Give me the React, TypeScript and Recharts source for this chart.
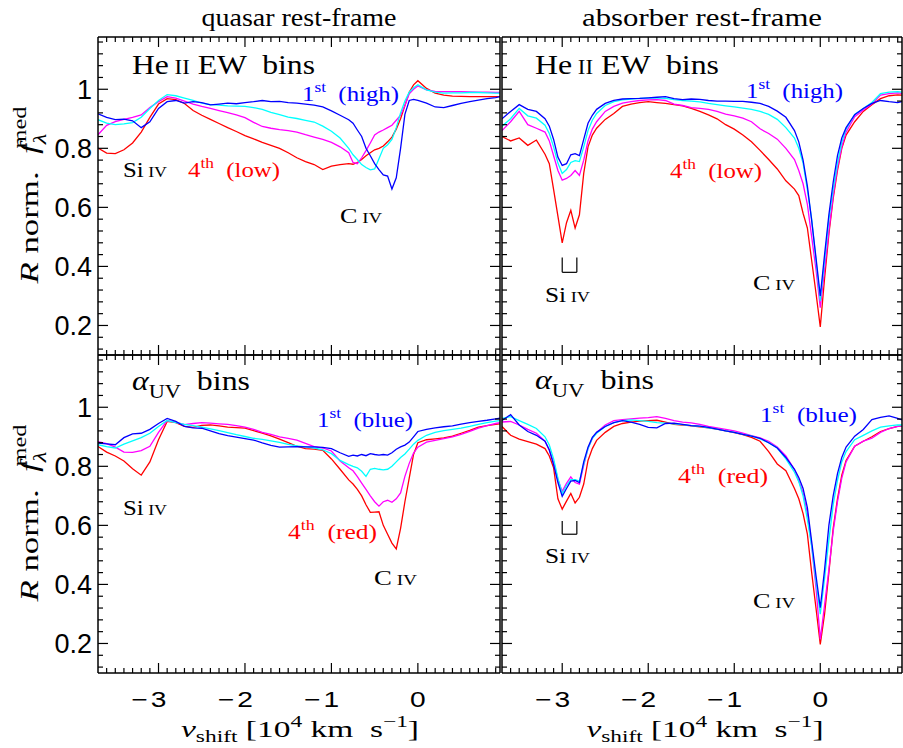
import React from "react";
import { LineChart, Line, XAxis, YAxis, ReferenceLine } from "recharts";

const SERIF = "'Liberation Serif', 'DejaVu Serif', serif";
const SANS = "'Liberation Sans', Arial, sans-serif";

const BLUE = "#0000ff";
const CYAN = "#00ffff";
const MAGENTA = "#ff00ff";
const RED = "#ff0000";

// velocity grids, 10^4 km/s
const V_QSO = [
  -3.7, -3.6, -3.5, -3.4, -3.3, -3.2, -3.1, -3.0, -2.9, -2.8, -2.7, -2.6, -2.5, -2.4, -2.3,
  -2.2, -2.1, -2.0, -1.9, -1.8, -1.7, -1.6, -1.5, -1.4, -1.3, -1.2, -1.1, -1.0, -0.9, -0.8,
  -0.75, -0.7, -0.65, -0.6, -0.55, -0.5, -0.45, -0.4, -0.35, -0.3, -0.25, -0.2, -0.15, -0.1, -0.05, 0,
  0.1, 0.2, 0.3, 0.4, 0.5, 0.6, 0.7, 0.8, 0.9, 0.95,
];
const V_ABS = [
  -3.7, -3.6, -3.5, -3.4, -3.3, -3.2,
  -3.15, -3.1, -3.05, -3.0, -2.95, -2.9, -2.85, -2.8, -2.75, -2.7, -2.65, -2.6,
  -2.5, -2.4, -2.3, -2.2, -2.1, -2.0, -1.9, -1.8, -1.7, -1.6, -1.5, -1.4, -1.3, -1.2, -1.1, -1.0,
  -0.9, -0.8, -0.7, -0.6, -0.5, -0.4, -0.3,
  -0.25, -0.2, -0.15, -0.1, -0.05, 0, 0.05, 0.1, 0.15, 0.2, 0.25, 0.3,
  0.4, 0.5, 0.6, 0.7, 0.8, 0.9, 0.95,
];

// He II EW bins, quasar frame
const HE_Q_1 = [
  0.917, 0.905, 0.897, 0.899, 0.893, 0.870, 0.890, 0.935, 0.958, 0.962, 0.953, 0.958, 0.955, 0.947, 0.950,
  0.953, 0.951, 0.955, 0.958, 0.962, 0.958, 0.959, 0.955, 0.953, 0.950, 0.946, 0.940, 0.927, 0.912, 0.897,
  0.885, 0.862, 0.840, 0.800, 0.775, 0.748, 0.728, 0.710, 0.706, 0.662, 0.700, 0.800, 0.915, 0.962, 0.966, 0.962,
  0.953, 0.940, 0.938, 0.945, 0.952, 0.958, 0.963, 0.968, 0.972, 0.975,
];
const HE_Q_2 = [
  0.897, 0.885, 0.880, 0.883, 0.887, 0.905, 0.935, 0.962, 0.982, 0.978, 0.970, 0.962, 0.953, 0.948, 0.946,
  0.944, 0.943, 0.942, 0.938, 0.932, 0.922, 0.914, 0.906, 0.901, 0.895, 0.889, 0.875, 0.858, 0.835, 0.800,
  0.778, 0.762, 0.745, 0.735, 0.727, 0.730, 0.765, 0.800, 0.812, 0.830, 0.870, 0.920, 0.960, 0.990, 1.005, 1.015,
  0.998, 0.990, 0.987, 0.988, 0.988, 0.989, 0.989, 0.988, 0.987, 0.987,
];
const HE_Q_3 = [
  0.846, 0.878, 0.890, 0.898, 0.905, 0.913, 0.938, 0.958, 0.975, 0.970, 0.960, 0.950, 0.942, 0.935, 0.928,
  0.921, 0.913, 0.904, 0.888, 0.874, 0.868, 0.863, 0.860, 0.855, 0.846, 0.838, 0.830, 0.820, 0.805, 0.785,
  0.752, 0.748, 0.768, 0.792, 0.818, 0.845, 0.855, 0.862, 0.870, 0.878, 0.895, 0.912, 0.945, 0.985, 1.000, 1.011,
  0.998, 0.993, 0.992, 0.992, 0.992, 0.991, 0.990, 0.990, 0.989, 0.989,
];
const HE_Q_4 = [
  0.801, 0.784, 0.782, 0.795, 0.818, 0.855, 0.905, 0.950, 0.968, 0.965, 0.952, 0.928, 0.912, 0.898, 0.884,
  0.870, 0.857, 0.843, 0.832, 0.820, 0.810, 0.800, 0.785, 0.768, 0.755, 0.745, 0.728, 0.740, 0.745, 0.748,
  0.746, 0.752, 0.762, 0.775, 0.785, 0.795, 0.800, 0.808, 0.822, 0.838, 0.865, 0.900, 0.945, 0.990, 1.015, 1.029,
  1.003, 0.987, 0.980, 0.977, 0.976, 0.975, 0.975, 0.975, 0.975, 0.975,
];

// He II EW bins, absorber frame
const HE_A_1 = [
  0.900, 0.925, 0.948, 0.932, 0.925, 0.900,
  0.875, 0.830, 0.770, 0.742, 0.748, 0.778, 0.782, 0.775, 0.830, 0.885, 0.912, 0.932,
  0.952, 0.962, 0.967, 0.968, 0.969, 0.971, 0.973, 0.975, 0.968, 0.965, 0.967, 0.966, 0.962, 0.960, 0.960, 0.959,
  0.959, 0.956, 0.952, 0.942, 0.926, 0.905, 0.860,
  0.822, 0.760, 0.672, 0.555, 0.430, 0.300, 0.440, 0.575, 0.685, 0.775, 0.835, 0.870,
  0.914, 0.935, 0.952, 0.962, 0.958, 0.955, 0.958,
];
const HE_A_2 = [
  0.875, 0.900, 0.935, 0.910, 0.902, 0.878,
  0.850, 0.805, 0.750, 0.715, 0.728, 0.752, 0.758, 0.755, 0.805, 0.860, 0.895, 0.918,
  0.945, 0.958, 0.964, 0.967, 0.969, 0.970, 0.970, 0.969, 0.965, 0.962, 0.960, 0.957, 0.952, 0.948, 0.944, 0.940,
  0.936, 0.932, 0.925, 0.915, 0.898, 0.870, 0.835,
  0.800, 0.750, 0.660, 0.560, 0.420, 0.283, 0.420, 0.560, 0.660, 0.750, 0.820, 0.865,
  0.915, 0.935, 0.955, 0.985, 0.990, 0.992, 0.990,
];
const HE_A_3 = [
  0.860, 0.890, 0.925, 0.880, 0.868, 0.855,
  0.825, 0.775, 0.725, 0.692, 0.698, 0.708, 0.725, 0.708, 0.760, 0.825, 0.865, 0.890,
  0.925, 0.942, 0.953, 0.958, 0.962, 0.964, 0.965, 0.962, 0.950, 0.945, 0.938, 0.935, 0.932, 0.925, 0.916, 0.910,
  0.902, 0.890, 0.866, 0.850, 0.831, 0.800, 0.762,
  0.725, 0.680, 0.610, 0.500, 0.390, 0.260, 0.390, 0.520, 0.640, 0.735, 0.805, 0.855,
  0.907, 0.930, 0.950, 0.980, 0.985, 0.988, 0.986,
];
const HE_A_4 = [
  0.840, 0.825, 0.835, 0.810, 0.828, 0.780,
  0.748, 0.660, 0.570, 0.480, 0.548, 0.590, 0.530, 0.575, 0.715, 0.805, 0.845, 0.868,
  0.898, 0.918, 0.942, 0.950, 0.955, 0.958, 0.955, 0.952, 0.948, 0.944, 0.935, 0.925, 0.913, 0.900, 0.880, 0.865,
  0.845, 0.822, 0.793, 0.762, 0.730, 0.690, 0.662,
  0.640, 0.580, 0.530, 0.420, 0.310, 0.195, 0.360, 0.510, 0.630, 0.725, 0.800, 0.845,
  0.890, 0.925, 0.948, 0.968, 0.978, 0.981, 0.980,
];

// alpha_UV bins, quasar frame
const AL_Q_1 = [
  0.879, 0.876, 0.873, 0.897, 0.910, 0.912, 0.925, 0.945, 0.962, 0.952, 0.935, 0.930, 0.929, 0.920, 0.911,
  0.904, 0.899, 0.894, 0.889, 0.879, 0.871, 0.865, 0.866, 0.867, 0.866, 0.866, 0.864, 0.860, 0.846, 0.834,
  0.838, 0.835, 0.840, 0.836, 0.843, 0.840, 0.838, 0.840, 0.838, 0.846, 0.858, 0.866, 0.872, 0.882, 0.900, 0.918,
  0.925, 0.930, 0.934, 0.937, 0.943, 0.948, 0.952, 0.956, 0.961, 0.963,
];
const AL_Q_2 = [
  0.873, 0.867, 0.862, 0.875, 0.886, 0.897, 0.912, 0.935, 0.955, 0.948, 0.942, 0.938, 0.933, 0.927, 0.921,
  0.914, 0.907, 0.901, 0.895, 0.891, 0.886, 0.881, 0.874, 0.869, 0.866, 0.862, 0.856, 0.843, 0.820, 0.806,
  0.800, 0.795, 0.783, 0.766, 0.790, 0.793, 0.790, 0.788, 0.790, 0.800, 0.815, 0.830, 0.842, 0.858, 0.875, 0.888,
  0.905, 0.915, 0.921, 0.925, 0.929, 0.935, 0.942, 0.948, 0.953, 0.955,
];
const AL_Q_3 = [
  0.884, 0.877, 0.865, 0.848, 0.847, 0.853, 0.868, 0.915, 0.955, 0.950, 0.941, 0.945, 0.948, 0.946, 0.944,
  0.942, 0.938, 0.933, 0.925, 0.915, 0.908, 0.900, 0.895, 0.889, 0.878, 0.867, 0.862, 0.852, 0.818, 0.795,
  0.785, 0.765, 0.743, 0.722, 0.700, 0.680, 0.665, 0.680, 0.685, 0.678, 0.690, 0.710, 0.766, 0.810, 0.845, 0.865,
  0.882, 0.888, 0.894, 0.900, 0.908, 0.918, 0.929, 0.938, 0.945, 0.948,
];
const AL_Q_4 = [
  0.867, 0.848, 0.835, 0.818, 0.792, 0.770, 0.815, 0.890, 0.952, 0.948, 0.935, 0.932, 0.939, 0.940, 0.937,
  0.933, 0.931, 0.929, 0.921, 0.912, 0.903, 0.892, 0.880, 0.868, 0.860, 0.858, 0.854, 0.825, 0.790, 0.754,
  0.740, 0.722, 0.700, 0.670, 0.644, 0.645, 0.646, 0.600, 0.570, 0.540, 0.520, 0.590, 0.680, 0.760, 0.840, 0.880,
  0.890, 0.893, 0.896, 0.902, 0.912, 0.922, 0.933, 0.938, 0.942, 0.944,
];

// alpha_UV bins, absorber frame
const AL_A_1 = [
  0.955, 0.975, 0.940, 0.918, 0.905, 0.885,
  0.855, 0.805, 0.745, 0.698, 0.725, 0.750, 0.752, 0.745, 0.815, 0.865, 0.898, 0.915,
  0.935, 0.948, 0.955, 0.950, 0.942, 0.932, 0.930, 0.945, 0.946, 0.942, 0.938, 0.936, 0.932, 0.926, 0.920, 0.915,
  0.908, 0.902, 0.895, 0.880, 0.862, 0.830, 0.790,
  0.762, 0.725, 0.660, 0.545, 0.430, 0.321, 0.450, 0.600, 0.700, 0.775, 0.830, 0.865,
  0.902, 0.925, 0.958, 0.966, 0.971, 0.962, 0.957,
];
const AL_A_2 = [
  0.962, 0.968, 0.955, 0.942, 0.928, 0.900,
  0.872, 0.825, 0.760, 0.707, 0.735, 0.755, 0.755, 0.750, 0.808, 0.860, 0.895, 0.912,
  0.935, 0.948, 0.955, 0.957, 0.955, 0.952, 0.948, 0.946, 0.944, 0.941, 0.938, 0.935, 0.930, 0.926, 0.920, 0.915,
  0.908, 0.903, 0.893, 0.880, 0.862, 0.825, 0.780,
  0.748, 0.700, 0.620, 0.530, 0.410, 0.299, 0.420, 0.550, 0.670, 0.752, 0.815, 0.850,
  0.890, 0.905, 0.920, 0.933, 0.937, 0.940, 0.940,
];
const AL_A_3 = [
  0.950, 0.952, 0.940, 0.925, 0.912, 0.885,
  0.855, 0.815, 0.755, 0.715, 0.742, 0.764, 0.745, 0.740, 0.803, 0.860, 0.895, 0.915,
  0.940, 0.955, 0.958, 0.961, 0.963, 0.965, 0.968, 0.962, 0.955, 0.950, 0.947, 0.942, 0.935, 0.930, 0.925, 0.920,
  0.912, 0.904, 0.896, 0.885, 0.865, 0.835, 0.789,
  0.750, 0.710, 0.640, 0.530, 0.390, 0.214, 0.330, 0.450, 0.580, 0.680, 0.760, 0.815,
  0.868, 0.885, 0.895, 0.915, 0.928, 0.935, 0.937,
];
const AL_A_4 = [
  0.935, 0.905, 0.892, 0.884, 0.875, 0.860,
  0.835, 0.795, 0.690, 0.655, 0.682, 0.708, 0.676, 0.695, 0.740, 0.820, 0.860, 0.888,
  0.915, 0.935, 0.945, 0.950, 0.953, 0.955, 0.956, 0.950, 0.942, 0.940, 0.937, 0.934, 0.930, 0.926, 0.920, 0.914,
  0.907, 0.898, 0.885, 0.850, 0.808, 0.785, 0.725,
  0.690, 0.640, 0.570, 0.440, 0.320, 0.197, 0.300, 0.440, 0.590, 0.690, 0.770, 0.820,
  0.868, 0.885, 0.900, 0.918, 0.928, 0.935, 0.937,
];

// Si IV doublet marker (absorber frame)
const SI_IV_V = [-3.0, -2.83];

const X_DOMAIN = [-3.7, 0.95];
const Y_DOMAIN = [0.1, 1.177];
const X_MAJOR = [-3, -2, -1, 0];
const Y_MAJOR = [0.2, 0.4, 0.6, 0.8, 1];
const X_TICKS = Array.from({ length: 46 }, (_, i) => +(-3.6 + i * 0.1).toFixed(1));
const Y_TICKS = Array.from({ length: 27 }, (_, i) => +(0.12 + i * 0.04).toFixed(2));

const isMajor = (list: number[], v: number) => list.some((m) => Math.abs(m - v) < 1e-6);

const toRows = (v: number[], b: number[], c: number[], m: number[], r: number[]) =>
  v.map((x, i) => ({ v: x, b: b[i], c: c[i], m: m[i], r: r[i] }));

const xTick = (side: "top" | "bottom", label: boolean) => (p: any) => {
  const { x, y } = p;
  const v = p.payload.value;
  const major = isMajor(X_MAJOR, v);
  const len = major ? 10 : 5;
  const d = side === "bottom" ? -1 : 1;
  return (
    <g>
      <line x1={x} x2={x} y1={y} y2={y + d * len} stroke="#000" strokeWidth={1.2} />
      {label && major && (
        <g
          transform={`translate(${x},${y + 34}) scale(1.28,1)`}
          fontFamily={SANS}
          fontSize={22}
          fill="#000"
        >
          <text x={0} y={0} textAnchor="middle">
            {Math.abs(v)}
          </text>
          {v < 0 && (
            <text x={-8.5} y={0} textAnchor="end">
              −
            </text>
          )}
        </g>
      )}
    </g>
  );
};

const yTick = (side: "left" | "right", label: boolean) => (p: any) => {
  const { x, y } = p;
  const v = p.payload.value;
  const major = isMajor(Y_MAJOR, v);
  const len = major ? 10 : 5;
  const d = side === "left" ? 1 : -1;
  return (
    <g>
      <line x1={x} x2={x + d * len} y1={y} y2={y} stroke="#000" strokeWidth={1.2} />
      {label && major && (
        <text x={x - 6} y={y + 9.5} textAnchor="end" fontFamily={SANS} fontSize={27} fill="#000">
          {v}
        </text>
      )}
    </g>
  );
};

const AXIS_LINE = { stroke: "#000", strokeWidth: 1.5 };

interface PanelProps {
  left: number;
  top: number;
  width: number;
  height: number;
  data: { v: number; b: number; c: number; m: number; r: number }[];
  xLabels: boolean;
  yLabels: boolean;
  bracket?: [number, number];
}

function Panel({ left, top, width, height, data, xLabels, yLabels, bracket }: PanelProps) {
  // axes are 1px thick bands so that the plot box lands exactly on left/top/width/height
  const margin = {
    top: top - 1,
    left: left - 1,
    right: 903 - left - width - 1,
    bottom: 748 - top - height - 1,
  };
  return (
    <div style={{ position: "absolute", left: 0, top: 0 }}>
      <LineChart width={903} height={748} data={data} margin={margin}>
        <XAxis
          xAxisId="b"
          dataKey="v"
          type="number"
          domain={X_DOMAIN}
          allowDataOverflow
          ticks={X_TICKS}
          interval={0}
          height={1}
          tickSize={0}
          tickMargin={0}
          tickLine={false}
          axisLine={AXIS_LINE}
          tick={xTick("bottom", xLabels)}
        />
        <XAxis
          xAxisId="t"
          orientation="top"
          dataKey="v"
          type="number"
          domain={X_DOMAIN}
          allowDataOverflow
          ticks={X_TICKS}
          interval={0}
          height={1}
          tickSize={0}
          tickMargin={0}
          tickLine={false}
          axisLine={AXIS_LINE}
          tick={xTick("top", false)}
        />
        <YAxis
          yAxisId="l"
          type="number"
          domain={Y_DOMAIN}
          allowDataOverflow
          ticks={Y_TICKS}
          interval={0}
          width={1}
          tickSize={0}
          tickMargin={0}
          tickLine={false}
          axisLine={AXIS_LINE}
          tick={yTick("left", yLabels)}
        />
        <YAxis
          yAxisId="r"
          orientation="right"
          type="number"
          domain={Y_DOMAIN}
          allowDataOverflow
          ticks={Y_TICKS}
          interval={0}
          width={1}
          tickSize={0}
          tickMargin={0}
          tickLine={false}
          axisLine={AXIS_LINE}
          tick={yTick("right", false)}
        />
        {[
          { k: "r", c: RED },
          { k: "m", c: MAGENTA },
          { k: "c", c: CYAN },
          { k: "b", c: BLUE },
        ].map((s) => (
          <Line
            key={s.k}
            xAxisId="b"
            yAxisId="l"
            dataKey={s.k}
            type="linear"
            stroke={s.c}
            strokeWidth={1.3}
            dot={false}
            activeDot={false}
            isAnimationActive={false}
          />
        ))}
        {bracket && (
          <ReferenceLine
            xAxisId="b"
            yAxisId="l"
            segment={[
              { x: SI_IV_V[0], y: bracket[0] },
              { x: SI_IV_V[0], y: bracket[1] },
            ]}
            stroke="#000"
            strokeWidth={1.2}
          />
        )}
        {bracket && (
          <ReferenceLine
            xAxisId="b"
            yAxisId="l"
            segment={[
              { x: SI_IV_V[0], y: bracket[1] },
              { x: SI_IV_V[1], y: bracket[1] },
            ]}
            stroke="#000"
            strokeWidth={1.2}
          />
        )}
        {bracket && (
          <ReferenceLine
            xAxisId="b"
            yAxisId="l"
            segment={[
              { x: SI_IV_V[1], y: bracket[1] },
              { x: SI_IV_V[1], y: bracket[0] },
            ]}
            stroke="#000"
            strokeWidth={1.2}
          />
        )}
      </LineChart>
    </div>
  );
}

function Txt(props: {
  x: number;
  y: number;
  s: number;
  w?: number;
  fill?: string;
  anchor?: "start" | "middle" | "end";
  children: React.ReactNode;
}) {
  const { x, y, s, w, fill = "#000", anchor = "start", children } = props;
  return (
    <text
      x={x}
      y={y}
      fontSize={s}
      fill={fill}
      fontFamily={SERIF}
      textAnchor={anchor}
      textLength={w}
      lengthAdjust={w ? "spacingAndGlyphs" : undefined}
      style={{ whiteSpace: "pre" }}
    >
      {children}
    </text>
  );
}

const ion = (el: string, stage: string, s: number) => (
  <>
    {el}
    <tspan fontSize={s * 0.72}>{" " + stage}</tspan>
  </>
);

const ord = (n: string, suf: string, rest: string, s: number) => (
  <>
    {n}
    <tspan dy={-0.42 * s} fontSize={s * 0.7}>
      {suf}
    </tspan>
    <tspan dy={0.42 * s}>{"  " + rest}</tspan>
  </>
);

const heBins = (s: number) => (
  <>
    He<tspan fontSize={s * 0.72}>{" II"}</tspan>
    <tspan>{" EW  bins"}</tspan>
  </>
);

const alBins = (s: number) => (
  <>
    <tspan fontStyle="italic">α</tspan>
    <tspan dy={0.28 * s} fontSize={s * 0.7}>
      UV
    </tspan>
    <tspan dy={-0.28 * s}>{"  bins"}</tspan>
  </>
);

const xTitle = (s: number) => (
  <>
    <tspan fontStyle="italic">v</tspan>
    <tspan dy={0.2 * s} fontSize={s * 0.7}>
      shift
    </tspan>
    <tspan dy={-0.2 * s}>{" [10"}</tspan>
    <tspan dy={-0.42 * s} fontSize={s * 0.7}>
      4
    </tspan>
    <tspan dy={0.42 * s}>{" km  s"}</tspan>
    <tspan dy={-0.42 * s} fontSize={s * 0.7}>
      −1
    </tspan>
    <tspan dy={0.42 * s}>]</tspan>
  </>
);

const yTitle = (s: number) => (
  <>
    <tspan fontStyle="italic">R</tspan>
    <tspan>{" norm.  "}</tspan>
    <tspan fontStyle="italic">f</tspan>
    <tspan dy={0.3 * s} fontSize={s * 0.7} fontStyle="italic">
      λ
    </tspan>
    <tspan dx={-0.42 * s} dy={-0.78 * s} fontSize={s * 0.7}>
      med
    </tspan>
  </>
);

function Overlay() {
  return (
    <svg
      width={903}
      height={748}
      style={{ position: "absolute", left: 0, top: 0, pointerEvents: "none" }}
    >
      <Txt x={299} y={26} s={25} w={195} anchor="middle">
        quasar rest-frame
      </Txt>
      <Txt x={702} y={26} s={25} w={240} anchor="middle">
        absorber rest-frame
      </Txt>

      {[195, 513].map((cy) => (
        <g key={cy} transform={`translate(38,${cy}) rotate(-90)`}>
          <Txt x={0} y={0} s={26} w={177} anchor="middle">
            {yTitle(26)}
          </Txt>
        </g>
      ))}

      <Txt x={300} y={737} s={24} w={238} anchor="middle">
        {xTitle(24)}
      </Txt>
      <Txt x={705} y={737} s={24} w={237} anchor="middle">
        {xTitle(24)}
      </Txt>

      {/* top left */}
      <Txt x={132} y={74} s={28} w={183}>
        {heBins(28)}
      </Txt>
      <Txt x={302} y={101} s={22} w={97} fill={BLUE}>
        {ord("1", "st", "(high)", 22)}
      </Txt>
      <Txt x={123} y={177} s={21} w={44}>
        {ion("Si", "IV", 21)}
      </Txt>
      <Txt x={188} y={177} s={22} w={92} fill={RED}>
        {ord("4", "th", "(low)", 22)}
      </Txt>
      <Txt x={340} y={223} s={21} w={42}>
        {ion("C", "IV", 21)}
      </Txt>

      {/* top right */}
      <Txt x={535} y={74} s={28} w={184}>
        {heBins(28)}
      </Txt>
      <Txt x={746} y={98} s={22} w={97} fill={BLUE}>
        {ord("1", "st", "(high)", 22)}
      </Txt>
      <Txt x={670} y={178} s={22} w={92} fill={RED}>
        {ord("4", "th", "(low)", 22)}
      </Txt>
      <Txt x={753} y={290} s={21} w={42}>
        {ion("C", "IV", 21)}
      </Txt>
      <Txt x={545} y={302} s={21} w={45}>
        {ion("Si", "IV", 21)}
      </Txt>

      {/* bottom left */}
      <Txt x={132} y={390} s={28} w={118}>
        {alBins(28)}
      </Txt>
      <Txt x={317} y={427} s={22} w={96} fill={BLUE}>
        {ord("1", "st", "(blue)", 22)}
      </Txt>
      <Txt x={123} y={515} s={21} w={44}>
        {ion("Si", "IV", 21)}
      </Txt>
      <Txt x={288} y={539} s={22} w={89} fill={RED}>
        {ord("4", "th", "(red)", 22)}
      </Txt>
      <Txt x={374} y={585} s={21} w={43}>
        {ion("C", "IV", 21)}
      </Txt>

      {/* bottom right */}
      <Txt x={535} y={389} s={28} w={119}>
        {alBins(28)}
      </Txt>
      <Txt x={760} y={422} s={22} w={97} fill={BLUE}>
        {ord("1", "st", "(blue)", 22)}
      </Txt>
      <Txt x={678} y={483} s={22} w={90} fill={RED}>
        {ord("4", "th", "(red)", 22)}
      </Txt>
      <Txt x={545} y={563} s={21} w={45}>
        {ion("Si", "IV", 21)}
      </Txt>
      <Txt x={753} y={608} s={21} w={42}>
        {ion("C", "IV", 21)}
      </Txt>
    </svg>
  );
}

export default function App() {
  const heQ = toRows(V_QSO, HE_Q_1, HE_Q_2, HE_Q_3, HE_Q_4);
  const heA = toRows(V_ABS, HE_A_1, HE_A_2, HE_A_3, HE_A_4);
  const alQ = toRows(V_QSO, AL_Q_1, AL_Q_2, AL_Q_3, AL_Q_4);
  const alA = toRows(V_ABS, AL_A_1, AL_A_2, AL_A_3, AL_A_4);

  return (
    <div
      style={{
        position: "absolute",
        left: 0,
        top: 0,
        width: 903,
        height: 748,
        background: "#fff",
        overflow: "hidden",
      }}
    >
      <Panel left={98} top={37} width={402} height={318} data={heQ} xLabels={false} yLabels />
      <Panel left={502} top={37} width={400} height={318} data={heA} xLabels={false} yLabels={false} bracket={[0.43, 0.38]} />
      <Panel left={98} top={355} width={402} height={318} data={alQ} xLabels yLabels />
      <Panel left={502} top={355} width={400} height={318} data={alA} xLabels yLabels={false} bracket={[0.615, 0.57]} />
      <Overlay />
    </div>
  );
}
